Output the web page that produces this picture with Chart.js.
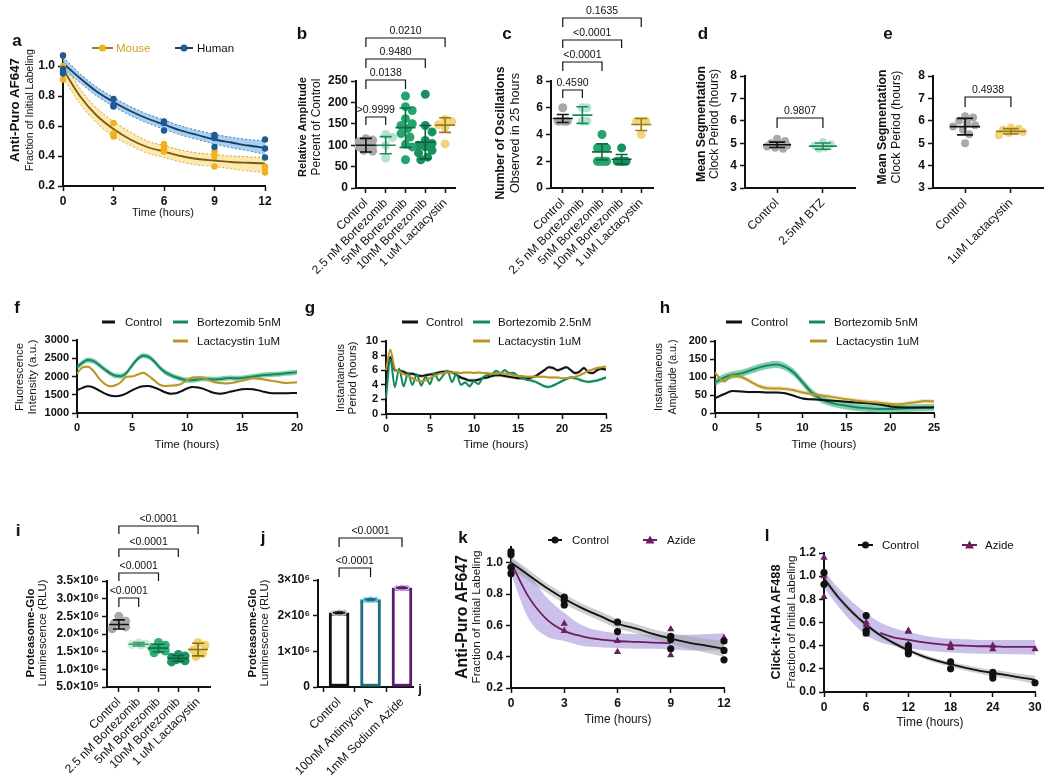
<!DOCTYPE html>
<html><head><meta charset="utf-8">
<script src="https://cdn.jsdelivr.net/npm/chart.js@4.4.1/dist/chart.umd.min.js"></script>
<style>
html,body{margin:0;padding:0;background:#fff;}
body{width:1050px;height:783px;position:relative;overflow:hidden;}
canvas{position:absolute;}
</style></head><body>
<script>
// ---------------- DATA ----------------
// panel a
const aT=[0,3,6,9,12];
const aMousePts=[[1.10,1.07,1.00,0.91],[0.62,0.55,0.54,0.53],[0.48,0.47,0.45,0.44,0.43],[0.43,0.40,0.33],[0.33,0.32,0.29]];
const aHumanPts=[[1.07,0.98,0.96,0.95],[0.78,0.74,0.73],[0.63,0.62,0.57],[0.54,0.53,0.52,0.46],[0.51,0.45,0.39]];
const aFitT=[0,1,2,3,4,5,6,7,8,9,10,11,12];
const aMouseFit=[0.98,0.80,0.67,0.58,0.51,0.46,0.43,0.40,0.38,0.37,0.36,0.355,0.35];
const aMouseLo=[0.92,0.75,0.62,0.53,0.47,0.42,0.39,0.36,0.34,0.33,0.315,0.30,0.29];
const aMouseHi=[1.04,0.85,0.72,0.63,0.56,0.50,0.47,0.44,0.42,0.41,0.40,0.395,0.39];
const aHumanFit=[1.02,0.92,0.83,0.76,0.70,0.65,0.61,0.57,0.54,0.51,0.49,0.47,0.455];
const aHumanLo=[0.98,0.89,0.80,0.73,0.67,0.62,0.58,0.54,0.51,0.48,0.455,0.435,0.41];
const aHumanHi=[1.06,0.95,0.86,0.79,0.73,0.68,0.64,0.60,0.57,0.545,0.525,0.51,0.50];
// panels b, c
const bCats=['Control','2.5 nM Bortezomib','5nM Bortezomib','10nM Bortezomib','1 uM Lactacystin'];
const bPts=[[115,112,108,104,100,98,96,92,88,86],[125,118,100,70],[215,190,181,162,150,146,139,127,119,102,96,66],[219,146,131,111,104,100,96,88,82,72,66],[160,155,148,142,103]];
const bMean=[100,100,141,107,147];
const bSD=[16,20,46,39,17];
const bP=['>0.9999','0.0138','0.9480','0.0210'];
const cPts=[[6,5,5,5,5],[6,6,5,5],[4,3,3,3,3,2,2,2,2,2],[3,2,2,2,2,2,2],[5,5,5,4]];
const cMean=[5.2,5.45,2.7,2.15,4.75];
const cSD=[0.3,0.62,0.6,0.35,0.45];
const cP=['0.4590','<0.0001','<0.0001','0.1635'];
// panels d, e
const dCats=['Control','2.5nM BTZ'];
const dPts=[[5.2,5.1,5.0,4.95,4.9,4.85,4.8,4.75],[5.05,4.95,4.9,4.8,4.75]];
const dMean=[4.93,4.87];
const dSD=[0.12,0.14];
const eCats=['Control','1uM Lactacystin'];
const ePts=[[6.2,6.15,6.0,5.9,5.8,5.75,5.6,5.4,5.0],[5.7,5.65,5.6,5.55,5.5,5.45,5.35]];
const eMean=[5.74,5.53];
const eSD=[0.37,0.12];
// panel f
const fT=[0,0.5,1,1.5,2,2.5,3,3.5,4,4.5,5,5.5,6,6.5,7,7.5,8,8.5,9,9.5,10,10.5,11,11.5,12,12.5,13,13.5,14,14.5,15,15.5,16,16.5,17,17.5,18,18.5,19,19.5,20];
const fCtrl=[1620,1690,1730,1700,1620,1540,1480,1460,1480,1540,1620,1690,1730,1740,1700,1640,1570,1530,1540,1600,1670,1710,1700,1660,1600,1550,1530,1550,1590,1620,1650,1660,1650,1620,1580,1550,1540,1540,1540,1545,1545];
const fBtz=[2250,2380,2450,2420,2320,2200,2090,2020,2010,2100,2300,2480,2570,2540,2420,2250,2120,2040,1980,1930,1900,1900,1920,1940,1930,1920,1930,1950,1960,1950,1960,1980,2000,2020,2040,2050,2060,2070,2090,2100,2120];
const fLac=[2080,2250,2270,2150,1950,1800,1730,1760,1850,1990,2000,2050,2100,2020,1900,1780,1740,1750,1760,1800,1900,1970,1980,1960,1900,1840,1820,1810,1820,1850,1880,1920,1950,1940,1920,1890,1870,1840,1820,1830,1840];
const fSem=[25,70,35];
// panel g
const gT=[0,0.5,1,1.5,2,2.5,3,3.5,4,4.5,5,5.5,6,6.5,7,7.5,8,8.5,9,9.5,10,10.5,11,11.5,12,12.5,13,13.5,14,14.5,15,15.5,16,16.5,17,17.5,18,18.5,19,19.5,20,20.5,21,21.5,22,22.5,23,23.5,24,24.5,25];
const gCtrl=[5.0,7.8,6.0,5.9,5.8,5.5,5.5,5.3,5.2,5.3,5.4,5.5,5.7,5.8,5.8,5.7,5.4,5.0,4.8,4.6,4.6,4.7,4.9,5.0,5.2,5.3,5.3,5.2,5.1,5.0,4.9,4.9,4.9,5.0,5.2,5.6,6.0,6.4,6.3,6.0,6.2,6.4,6.0,5.6,5.8,6.3,5.7,5.6,6.0,6.2,6.1];
const gBtz=[2.2,7.5,3.7,6.2,3.8,5.6,4.0,5.4,3.9,5.1,4.1,5.6,4.6,5.3,5.9,4.4,5.5,4.0,4.3,3.8,4.5,4.1,5.0,5.3,5.4,5.9,5.6,6.0,5.6,5.6,5.2,4.9,4.7,4.6,4.4,4.1,3.8,3.7,3.9,4.2,4.5,4.8,5.0,4.9,4.7,4.5,4.4,4.5,4.6,4.8,5.0];
const gLac=[6.0,8.8,6.2,5.8,5.5,5.2,4.9,4.6,4.5,4.6,4.9,5.2,5.5,5.6,5.7,5.7,5.7,5.6,5.7,5.7,5.6,5.7,5.6,5.6,5.5,5.5,5.6,5.5,5.5,5.3,5.2,5.2,5.1,5.1,5.1,5.1,5.1,5.0,5.0,5.0,4.9,4.9,5.0,5.1,5.3,5.6,5.9,6.1,6.3,6.4,6.5];
const gSem=[0.25,0.2,0.18];
// panel h
const hT=[0,1,2,3,4,5,6,7,8,9,10,11,12,13,14,15,16,17,18,19,20,21,22,23,24,25];
const hCtrl=[41,52,61,60,58,58,57,57,55,48,40,38,37,35,33,31,29,28,26,23,18,16,15,15,15,16];
const hBtz=[85,98,106,110,118,126,132,135,128,112,85,58,40,30,24,20,16,14,12,11,11,12,13,14,15,15];
const hLac=[112,88,104,100,88,75,69,68,67,63,57,53,49,46,42,38,35,32,30,28,25,24,27,30,33,32];
const hSem=[3,10,6];
// panel i
const iPts=[[2.50e6,2.36e6,2.30e6,2.25e6,2.20e6,2.15e6],[1.75e6,1.72e6,1.70e6,1.68e6],[1.76e6,1.68e6,1.62e6,1.57e6,1.52e6,1.47e6],[1.42e6,1.38e6,1.34e6,1.30e6,1.27e6,1.24e6,1.21e6],[1.76e6,1.68e6,1.55e6,1.45e6,1.36e6]];
const iMean=[2.27e6,1.71e6,1.60e6,1.31e6,1.56e6];
const iSD=[0.13e6,0.05e6,0.11e6,0.08e6,0.18e6];
const iP=['<0.0001','<0.0001','<0.0001','<0.0001'];
// panel j
const jCats=['Control','100nM Antimycin A','1mM Sodium Azide'];
const jBars=[2.08e6,2.45e6,2.78e6];
const jPts=[[2.10e6,2.09e6,2.08e6,2.07e6,2.06e6],[2.47e6,2.46e6,2.45e6,2.44e6,2.43e6],[2.80e6,2.79e6,2.78e6,2.77e6,2.76e6]];
const jSD=[0.02e6,0.02e6,0.02e6];
const jP=['<0.0001','<0.0001'];
// panel k
const kT=[0,3,6,9,12];
const kCtrlPts=[[1.07,1.05,0.97,0.93],[0.78,0.76,0.73],[0.62,0.56],[0.53,0.51,0.45],[0.50,0.44,0.38]];
const kAzPts=[[1.07,0.98,0.95],[0.61,0.565],[0.50,0.43],[0.575,0.41],[0.52]];
const kFitT=[0,1,2,3,4,5,6,7,8,9,10,11,12];
const kCtrlFit=[1.0,0.92,0.84,0.77,0.71,0.66,0.61,0.58,0.545,0.515,0.49,0.47,0.45];
const kCtrlLo=[0.96,0.885,0.81,0.74,0.68,0.63,0.58,0.55,0.515,0.48,0.45,0.425,0.40];
const kCtrlHi=[1.04,0.955,0.87,0.80,0.74,0.69,0.64,0.61,0.575,0.55,0.53,0.515,0.50];
const kAzT=[0,1,2,3,4,5,6,7,8,9];
const kAzFit=[1.0,0.78,0.64,0.565,0.53,0.51,0.50,0.495,0.49,0.485];
const kAzLo=[0.93,0.64,0.53,0.50,0.47,0.46,0.455,0.45,0.45,0.445,0.44,0.44,0.44];
const kAzHi=[1.03,0.93,0.78,0.68,0.60,0.565,0.55,0.545,0.54,0.54,0.54,0.545,0.55];
// panel l
const lT=[0,6,12,18,24,30];
const lCtrlPts=[[1.03,0.93],[0.66,0.53,0.51],[0.40,0.37,0.35,0.33],[0.26,0.20],[0.17,0.15,0.12],[0.08]];
const lAzPts=[[1.16,1.00,0.82],[0.60,0.58,0.50],[0.53,0.52,0.41],[0.41,0.39,0.38],[0.40,0.37],[0.37]];
const lFitT=[0,2,4,6,8,10,12,14,16,18,20,22,24,26,28,30];
const lCtrlFit=[0.98,0.82,0.69,0.58,0.49,0.42,0.36,0.31,0.27,0.24,0.21,0.185,0.165,0.145,0.125,0.105];
const lCtrlLo=[0.94,0.79,0.665,0.56,0.47,0.40,0.34,0.29,0.25,0.215,0.185,0.16,0.135,0.115,0.095,0.07];
const lCtrlHi=[1.02,0.85,0.715,0.60,0.51,0.44,0.38,0.33,0.29,0.26,0.235,0.21,0.19,0.175,0.155,0.14];
const lAzT=[8,10,12,14,16,18,20,22,24,26,28,30];
const lAzFit=[0.51,0.47,0.45,0.43,0.415,0.405,0.40,0.395,0.395,0.39,0.39,0.39];
const lAzLo=[0.90,0.74,0.60,0.49,0.43,0.40,0.38,0.36,0.35,0.34,0.335,0.33,0.33,0.325,0.325,0.32];
const lAzHi=[1.05,0.90,0.78,0.68,0.60,0.55,0.52,0.49,0.47,0.46,0.455,0.45,0.45,0.45,0.45,0.45];

// ---------------- HELPERS ----------------
const FONT='"Liberation Sans", Arial, sans-serif';
Chart.defaults.font.family=FONT;
const xy=(xs,ys)=>xs.map((x,i)=>({x,y:ys[i]}));
const pts=(ts,arr)=>ts.flatMap((t,i)=>arr[i].map(v=>({x:t,y:v})));
const shift=(ys,s,k)=>ys.map(v=>v+k*s);
function line(data,color,w,extra){return Object.assign({data,borderColor:color,borderWidth:w,pointRadius:0,fill:false,cubicInterpolationMode:'monotone',order:2,clip:false},extra||{});}
function band(hi,lo,fc,bc){
  const common={pointRadius:0,cubicInterpolationMode:'monotone',order:3,clip:false,borderColor:bc||'rgba(0,0,0,0)',borderWidth:bc?1:0,borderDash:[2,2]};
  return [Object.assign({data:hi,fill:'+1',backgroundColor:fc},common),Object.assign({data:lo,fill:false},common)];
}
function scat(data,color,r,style){return {data,showLine:false,pointRadius:r,pointStyle:style||'circle',pointBackgroundColor:color,pointBorderColor:color,pointBorderWidth:0,order:1,clip:false};}

function T(x,y,s,o){
  o=o||{};
  const d=document.createElement('div');
  d.textContent=s;
  d.style.cssText='position:absolute;white-space:nowrap;left:0;top:0;line-height:1;font-family:'+FONT+';font-size:'+(o.size||12)+'px;font-weight:'+(o.bold?'bold':'normal')+';color:'+(o.color||'#111')+';';
  document.body.appendChild(d);
  if(o.len){const w=d.getBoundingClientRect().width; d.style.fontSize=((o.size||12)*o.len/w).toFixed(2)+'px';}
  d.style.left=x+'px'; d.style.top=y+'px';
  d.style.transform='translate(-50%,-50%)'+(o.rot?' rotate(-90deg)':'');
}

function annot(cfg,ox,oy){
  return {id:'annot',afterDatasetsDraw(ch){
    const c=ch.ctx,X=ch.scales.x,Y=ch.scales.y;
    c.save();
    (cfg.eb||[]).forEach(e=>{
      const x=X.getPixelForValue(e.x),ym=Y.getPixelForValue(e.m),y1=Y.getPixelForValue(e.m+e.s),y2=Y.getPixelForValue(e.m-e.s);
      c.strokeStyle=e.c;c.lineWidth=1.6;c.beginPath();
      c.moveTo(x-e.hw,ym);c.lineTo(x+e.hw,ym);
      c.moveTo(x,y1);c.lineTo(x,y2);
      c.moveTo(x-e.cw,y1);c.lineTo(x+e.cw,y1);
      c.moveTo(x-e.cw,y2);c.lineTo(x+e.cw,y2);
      c.stroke();
    });
    (cfg.br||[]).forEach(b=>{
      const x1=X.getPixelForValue(b.a),x2=X.getPixelForValue(b.b),y=b.y-oy,yl=b.leg-oy;
      c.strokeStyle='#111';c.lineWidth=1.2;c.beginPath();
      c.moveTo(x1,yl);c.lineTo(x1,y);c.lineTo(x2,y);c.lineTo(x2,yl);c.stroke();
      c.fillStyle='#111';c.font='10.5px '+FONT;c.textAlign='center';c.textBaseline='bottom';
      c.fillText(b.t,(x1+x2)/2,y-2);
    });
    (cfg.lg||[]).forEach(g=>{
      const y=g.y-oy,x1=g.x1-ox,x2=g.x2-ox;
      c.strokeStyle=g.c;c.lineWidth=g.w||3;c.beginPath();c.moveTo(x1,y);c.lineTo(x2,y);c.stroke();
      if(g.m){
        const cx=(x1+x2)/2;c.fillStyle=g.mc||g.c;c.beginPath();
        if(g.m==='tri'){c.moveTo(cx,y-4.5);c.lineTo(cx+4.5,y+3.5);c.lineTo(cx-4.5,y+3.5);c.closePath();}
        else c.arc(cx,y,3.5,0,Math.PI*2);
        c.fill();
      }
      c.fillStyle=g.tc||'#111';c.font='11.5px '+FONT;c.textAlign='left';c.textBaseline='middle';
      c.fillText(g.t,g.tx-ox,y+0.5);
    });
    c.restore();
  }};
}

function mk(p){
  const [l,t,r,b]=p.plot;
  const bx=Math.max(0,l-80),by=Math.max(0,t-82);
  const bw=r+30-bx,bh=p.bottom-by;
  const cv=document.createElement('canvas');
  cv.width=bw;cv.height=bh;
  cv.style.left=bx+'px';cv.style.top=by+'px';cv.style.width=bw+'px';cv.style.height=bh+'px';
  document.body.appendChild(cv);
  const ax=(a,isX)=>({
    type:'linear',min:a.min,max:a.max,offset:false,
    afterFit:s=>{if(isX)s.height=by+bh-b;else s.width=l-bx;},
    afterBuildTicks:s=>{s.ticks=a.ticks.map(v=>({value:v}));},
    grid:{display:true,drawOnChartArea:false,drawTicks:true,tickLength:5,tickWidth:1.5,tickColor:'#111',color:'#111'},
    border:{display:true,color:'#111',width:2},
    ticks:{color:'#111',autoSkip:false,padding:3,
      font:a.labels?{family:FONT,size:12}:{family:FONT,size:a.fs||12,weight:'bold'},
      maxRotation:a.rot||0,minRotation:a.rot||0,
      callback:(v)=>a.labels?a.labels[Math.round(v)]:(a.fmt?a.fmt(v):String(v))}
  });
  new Chart(cv,{type:'line',data:{datasets:p.ds},options:{
    responsive:false,maintainAspectRatio:false,animation:false,devicePixelRatio:1,events:[],
    layout:{padding:{left:0,top:t-by,right:bx+bw-r,bottom:0}},
    plugins:{legend:{display:false},tooltip:{enabled:false}},
    scales:{x:ax(p.x,true),y:ax(p.y,false)}
  },plugins:[annot(p.an||{},bx,by)]});
}

function swarm(vals,gi,xppu,yppu,r,maxOff){
  const placed=[],out=[];
  const cands=[0];for(let s=r*0.5;s<=maxOff+1e-6;s+=r*0.5)cands.push(s,-s);
  [...vals].sort((a,b)=>b-a).forEach(v=>{
    const yp=v*yppu;let best=0,bestD=-1;
    for(const cd of cands){
      const d=placed.length?Math.min(...placed.map(q=>Math.hypot(q[0]-cd,q[1]-yp))):1e9;
      if(d>=r*1.8){best=cd;bestD=d;break;}
      if(d>bestD){bestD=d;best=cd;}
    }
    placed.push([best,yp]);out.push({x:gi+best/xppu,y:v});
  });
  return out;
}

function catPanel(P){
  const [l,t,r,b]=P.plot;
  const xppu=(r-l)/(P.x.max-P.x.min),yppu=(b-t)/(P.y.max-P.y.min);
  const ds=P.groups.map((vals,gi)=>scat(swarm(vals,gi,xppu,yppu,P.rad,P.maxOff),P.pc[gi],P.rad));
  if(P.extra)ds.push(...P.extra);
  const eb=P.mean.map((m,i)=>({x:i,m,s:P.sd[i],c:P.lc[i],hw:P.hw,cw:P.cw}));
  mk({plot:P.plot,bottom:P.bottom,x:P.x,y:P.y,ds,an:{eb,br:P.br}});
}

const f1=v=>v.toFixed(1);
const GRAY='#a9a9a9';

// ---------------- PANEL a ----------------
mk({plot:[63,57,265,186],bottom:232,
  x:{min:0,max:12,ticks:[0,3,6,9,12]},
  y:{min:0.2,max:1.06,ticks:[0.2,0.4,0.6,0.8,1.0],fmt:f1},
  ds:[
    ...band(xy(aFitT,aHumanHi),xy(aFitT,aHumanLo),'rgba(110,178,232,0.6)','#3f7fbf'),
    ...band(xy(aFitT,aMouseHi),xy(aFitT,aMouseLo),'rgba(250,218,120,0.6)','#c9a030'),
    line(xy(aFitT,aHumanFit),'#163d63',1.8),
    line(xy(aFitT,aMouseFit),'#7a5a12',1.8),
    scat(pts(aT,aHumanPts),'#1f5a90',3.2),
    scat(pts(aT,aMousePts),'#f2b01e',3.2)
  ],
  an:{lg:[
    {x1:92,x2:113,y:48,c:'#a07a18',w:2,m:'c',mc:'#f2b01e',t:'Mouse',tx:116,tc:'#d1a020'},
    {x1:175,x2:193,y:48,c:'#163d63',w:2,m:'c',mc:'#1f5a90',t:'Human',tx:197}
  ]}
});

// ---------------- PANEL b ----------------
const colB=[GRAY,'#b4e3cf','#25a56d','#17925f','#f3d47c'];
const linB=['#111','#1e8a5c','#0f6e45','#0b5f3b','#9a7b17'];
catPanel({plot:[356,81,455,188],bottom:278,
  x:{min:-0.5,max:4.5,ticks:[0,1,2,3,4],labels:bCats,rot:45},
  y:{min:0,max:250,ticks:[0,50,100,150,200,250]},
  groups:bPts,mean:bMean,sd:bSD,pc:colB,lc:linB,rad:4.5,maxOff:8,hw:10,cw:6,
  br:[{a:0,b:1,y:117,leg:125,t:bP[0]},{a:0,b:2,y:80,leg:89,t:bP[1]},{a:0,b:3,y:59,leg:68,t:bP[2]},{a:0,b:4,y:38,leg:47,t:bP[3]}]
});

// ---------------- PANEL c ----------------
catPanel({plot:[551,81,653,188],bottom:278,
  x:{min:-0.6,max:4.6,ticks:[0,1,2,3,4],labels:bCats,rot:45},
  y:{min:0,max:8,ticks:[0,2,4,6,8]},
  groups:cPts,mean:cMean,sd:cSD,pc:colB,lc:linB,rad:4.5,maxOff:6,hw:10,cw:6,
  br:[{a:0,b:1,y:90,leg:98,t:cP[0]},{a:0,b:2,y:62,leg:71,t:cP[1]},{a:0,b:3,y:40,leg:48,t:cP[2]},{a:0,b:4,y:18,leg:27,t:cP[3]}]
});

// ---------------- PANEL d ----------------
catPanel({plot:[745,76,855,188],bottom:278,
  x:{min:-0.7,max:1.7,ticks:[0,1],labels:dCats,rot:45},
  y:{min:3,max:8,ticks:[3,4,5,6,7,8]},
  groups:dPts,mean:dMean,sd:dSD,pc:[GRAY,'#b4e3cf'],lc:['#111','#1e8a5c'],rad:4,maxOff:10,hw:14,cw:8,
  br:[{a:0,b:1,y:118,leg:128,t:'0.9807'}]
});

// ---------------- PANEL e ----------------
catPanel({plot:[933,76,1043,188],bottom:278,
  x:{min:-0.7,max:1.7,ticks:[0,1],labels:eCats,rot:45},
  y:{min:3,max:8,ticks:[3,4,5,6,7,8]},
  groups:ePts,mean:eMean,sd:eSD,pc:[GRAY,'#f3d47c'],lc:['#111','#9a7b17'],rad:4,maxOff:12,hw:15,cw:8,
  br:[{a:0,b:1,y:97,leg:107,t:'0.4938'}]
});

// ---------------- PANEL f ----------------
const GREEN='#138a5e',GOLD='#b8962a';
mk({plot:[77,340,297,413],bottom:440,
  x:{min:0,max:20,ticks:[0,5,10,15,20],fs:11},
  y:{min:1000,max:3000,ticks:[1000,1500,2000,2500,3000],fs:11},
  ds:[
    ...band(xy(fT,shift(fBtz,fSem[1],1)),xy(fT,shift(fBtz,fSem[1],-1)),'rgba(30,165,110,0.55)'),
    ...band(xy(fT,shift(fLac,fSem[2],1)),xy(fT,shift(fLac,fSem[2],-1)),'rgba(215,185,80,0.35)'),
    ...band(xy(fT,shift(fCtrl,fSem[0],1)),xy(fT,shift(fCtrl,fSem[0],-1)),'rgba(120,120,120,0.3)'),
    line(xy(fT,fCtrl),'#111',2),line(xy(fT,fLac),GOLD,2),line(xy(fT,fBtz),GREEN,2)
  ],
  an:{lg:[
    {x1:102,x2:115,y:322,c:'#111',t:'Control',tx:125},
    {x1:173,x2:188,y:322,c:GREEN,t:'Bortezomib 5nM',tx:197},
    {x1:173,x2:188,y:341,c:GOLD,t:'Lactacystin 1uM',tx:197}
  ]}
});

// ---------------- PANEL g ----------------
mk({plot:[386,341,606,414],bottom:440,
  x:{min:0,max:25,ticks:[0,5,10,15,20,25],fs:11},
  y:{min:0,max:10,ticks:[0,2,4,6,8,10],fs:11},
  ds:[
    ...band(xy(gT,shift(gBtz,gSem[1],1)),xy(gT,shift(gBtz,gSem[1],-1)),'rgba(30,165,110,0.45)'),
    ...band(xy(gT,shift(gLac,gSem[2],1)),xy(gT,shift(gLac,gSem[2],-1)),'rgba(215,185,80,0.4)'),
    ...band(xy(gT,shift(gCtrl,gSem[0],1)),xy(gT,shift(gCtrl,gSem[0],-1)),'rgba(120,120,120,0.35)'),
    line(xy(gT,gLac),GOLD,2),line(xy(gT,gBtz),GREEN,2),line(xy(gT,gCtrl),'#111',2)
  ],
  an:{lg:[
    {x1:402,x2:418,y:322,c:'#111',t:'Control',tx:426},
    {x1:473,x2:490,y:322,c:GREEN,t:'Bortezomib 2.5nM',tx:498},
    {x1:473,x2:490,y:341,c:GOLD,t:'Lactacystin 1uM',tx:498}
  ]}
});

// ---------------- PANEL h ----------------
mk({plot:[715,341,934,413],bottom:440,
  x:{min:0,max:25,ticks:[0,5,10,15,20,25],fs:11},
  y:{min:0,max:200,ticks:[0,50,100,150,200],fs:11},
  ds:[
    ...band(xy(hT,shift(hBtz,hSem[1],1)),xy(hT,shift(hBtz,hSem[1],-1)),'rgba(30,165,110,0.55)'),
    ...band(xy(hT,shift(hLac,hSem[2],1)),xy(hT,shift(hLac,hSem[2],-1)),'rgba(215,185,80,0.4)'),
    ...band(xy(hT,shift(hCtrl,hSem[0],1)),xy(hT,shift(hCtrl,hSem[0],-1)),'rgba(120,120,120,0.35)'),
    line(xy(hT,hLac),GOLD,2),line(xy(hT,hCtrl),'#111',2),line(xy(hT,hBtz),GREEN,2)
  ],
  an:{lg:[
    {x1:726,x2:742,y:322,c:'#111',t:'Control',tx:751},
    {x1:809,x2:825,y:322,c:GREEN,t:'Bortezomib 5nM',tx:834},
    {x1:810,x2:827,y:341,c:GOLD,t:'Lactacystin 1uM',tx:836}
  ]}
});

// ---------------- PANEL i ----------------
const supFmt=v=>{const e=v>=1e6?6:5;const m=v/Math.pow(10,e);return m.toFixed(1)+'×10'+(e===6?'⁶':'⁵');};
catPanel({plot:[107,581,210,687],bottom:783,
  x:{min:-0.6,max:4.6,ticks:[0,1,2,3,4],labels:bCats,rot:45},
  y:{min:5e5,max:3.5e6,ticks:[5e5,1e6,1.5e6,2e6,2.5e6,3e6,3.5e6],fmt:supFmt},
  groups:iPts,mean:iMean,sd:iSD,pc:[GRAY,'#c8ecdb','#2fae78','#1b9462','#f3d06a'],lc:['#111','#3a9a6e','#127048','#0b5f3b','#8d6e12'],rad:4.5,maxOff:7,hw:10,cw:6,
  br:[{a:0,b:1,y:598,leg:607,t:iP[0]},{a:0,b:2,y:573,leg:581,t:iP[1]},{a:0,b:3,y:549,leg:557,t:iP[2]},{a:0,b:4,y:526,leg:534,t:iP[3]}]
});

// ---------------- PANEL j ----------------
catPanel({plot:[318,580,413,687],bottom:783,
  x:{min:-0.67,max:2.35,ticks:[0,1,2],labels:jCats,rot:45},
  y:{min:0,max:3e6,ticks:[0,1e6,2e6,3e6],fmt:v=>v===0?'0':(v/1e6)+'×10⁶'},
  groups:jPts,mean:jBars,sd:jSD,pc:['#b5b5b5','#6ccfe0','#c9a8e6'],lc:['#111','#1d6f80','#5b1e6e'],rad:2.6,maxOff:7,hw:6,cw:4,
  extra:[{type:'bar',data:xy([0,1,2],jBars),backgroundColor:'#fff',borderColor:['#111','#1d6f80','#5b1e6e'],borderWidth:3,borderSkipped:false,barThickness:20,grouped:false,order:5,clip:false}],
  br:[{a:0,b:1,y:568,leg:577,t:jP[0]},{a:0,b:2,y:538,leg:547,t:jP[1]}]
});

// ---------------- PANEL k ----------------
const PURPLE='#6b1f5c';
mk({plot:[511,547,724,688],bottom:783,
  x:{min:0,max:12,ticks:[0,3,6,9,12]},
  y:{min:0.2,max:1.1,ticks:[0.2,0.4,0.6,0.8,1.0],fmt:f1},
  ds:[
    ...band(xy(kFitT,kCtrlHi),xy(kFitT,kCtrlLo),'rgba(160,160,160,0.5)'),
    ...band(xy(kFitT,kAzHi),xy(kFitT,kAzLo),'rgba(150,130,215,0.5)'),
    line(xy(kFitT,kCtrlFit),'#111',1.8),
    line(xy(kAzT,kAzFit),PURPLE,1.8),
    scat(pts(kT,kCtrlPts),'#111',3.6),
    scat(pts(kT,kAzPts),PURPLE,4.2,'triangle')
  ],
  an:{lg:[
    {x1:548,x2:562,y:540,c:'#111',w:2,m:'c',t:'Control',tx:572},
    {x1:643,x2:657,y:540,c:PURPLE,w:2,m:'tri',t:'Azide',tx:667}
  ]}
});

// ---------------- PANEL l ----------------
mk({plot:[824,553,1035,692],bottom:783,
  x:{min:0,max:30,ticks:[0,6,12,18,24,30]},
  y:{min:0,max:1.2,ticks:[0,0.2,0.4,0.6,0.8,1.0,1.2],fmt:f1},
  ds:[
    ...band(xy(lFitT,lCtrlHi),xy(lFitT,lCtrlLo),'rgba(160,160,160,0.5)'),
    ...band(xy(lFitT,lAzHi),xy(lFitT,lAzLo),'rgba(150,130,215,0.5)'),
    line(xy(lFitT,lCtrlFit),'#111',1.8),
    line(xy(lAzT,lAzFit),PURPLE,1.8),
    scat(pts(lT,lCtrlPts),'#111',3.6),
    scat(pts(lT,lAzPts),PURPLE,4.2,'triangle')
  ],
  an:{lg:[
    {x1:858,x2:873,y:545,c:'#111',w:2,m:'c',t:'Control',tx:882},
    {x1:962,x2:977,y:545,c:PURPLE,w:2,m:'tri',t:'Azide',tx:985}
  ]}
});

// ---------------- TEXT ----------------
const L={bold:true,size:17};
T(17,40,'a',L);T(302,33,'b',L);T(507,33,'c',L);T(703,33,'d',L);T(888,33,'e',L);
T(17,307,'f',L);T(310,307,'g',L);T(665,307,'h',L);
T(18,530,'i',L);T(263,537,'j',L);T(463,537,'k',L);T(767,535,'l',L);
T(420,688,'j',{bold:true,size:13});
// x titles
T(163,213,'Time (hours)',{len:62});
T(187,445,'Time (hours)',{len:65});
T(496,445,'Time (hours)',{len:65});
T(824,445,'Time (hours)',{len:65});
T(618,720,'Time (hours)',{len:67});
T(930,723,'Time (hours)',{len:67});
// y titles
T(15,110,'Anti-Puro AF647',{bold:true,rot:true,len:104});
T(29,110,'Fraction of Initial Labeling',{rot:true,len:122});
T(303,127,'Relative Amplitude',{bold:true,rot:true,len:100});
T(316,127,'Percent of Control',{rot:true,len:97});
T(500,133,'Number of Oscillations',{bold:true,rot:true,len:133});
T(515,133,'Observed in 25 hours',{rot:true,len:120});
T(701,124,'Mean Segmentation',{bold:true,rot:true,len:116});
T(714,124,'Clock Period (hours)',{rot:true,len:110});
T(882,127,'Mean Segmentation',{bold:true,rot:true,len:115});
T(896,127,'Clock Period (hours)',{rot:true,len:113});
T(20,377,'Fluorescence',{rot:true,len:68});
T(33,377,'Intensity (a.u.)',{rot:true,len:75});
T(340,378,'Instantaneous',{rot:true,len:68});
T(353,378,'Period (hours)',{rot:true,len:73});
T(658,377,'Instantaneous',{rot:true,len:68});
T(672,377,'Amplitude (a.u.)',{rot:true,len:75});
T(31,633,'Proteasome-Glo',{bold:true,rot:true,len:89});
T(43,633,'Luminescence (RLU)',{rot:true,len:107});
T(253,633,'Proteasome-Glo',{bold:true,rot:true,len:89});
T(265,633,'Luminescence (RLU)',{rot:true,len:107});
T(462,617,'Anti-Puro AF647',{bold:true,rot:true,len:124});
T(476,617,'Fraction of Initial Labeling',{rot:true,len:133});
T(776,622,'Click-it-AHA AF488',{bold:true,rot:true,len:115});
T(791,622,'Fraction of Initial Labeling',{rot:true,len:133});
</script>
</body></html>
